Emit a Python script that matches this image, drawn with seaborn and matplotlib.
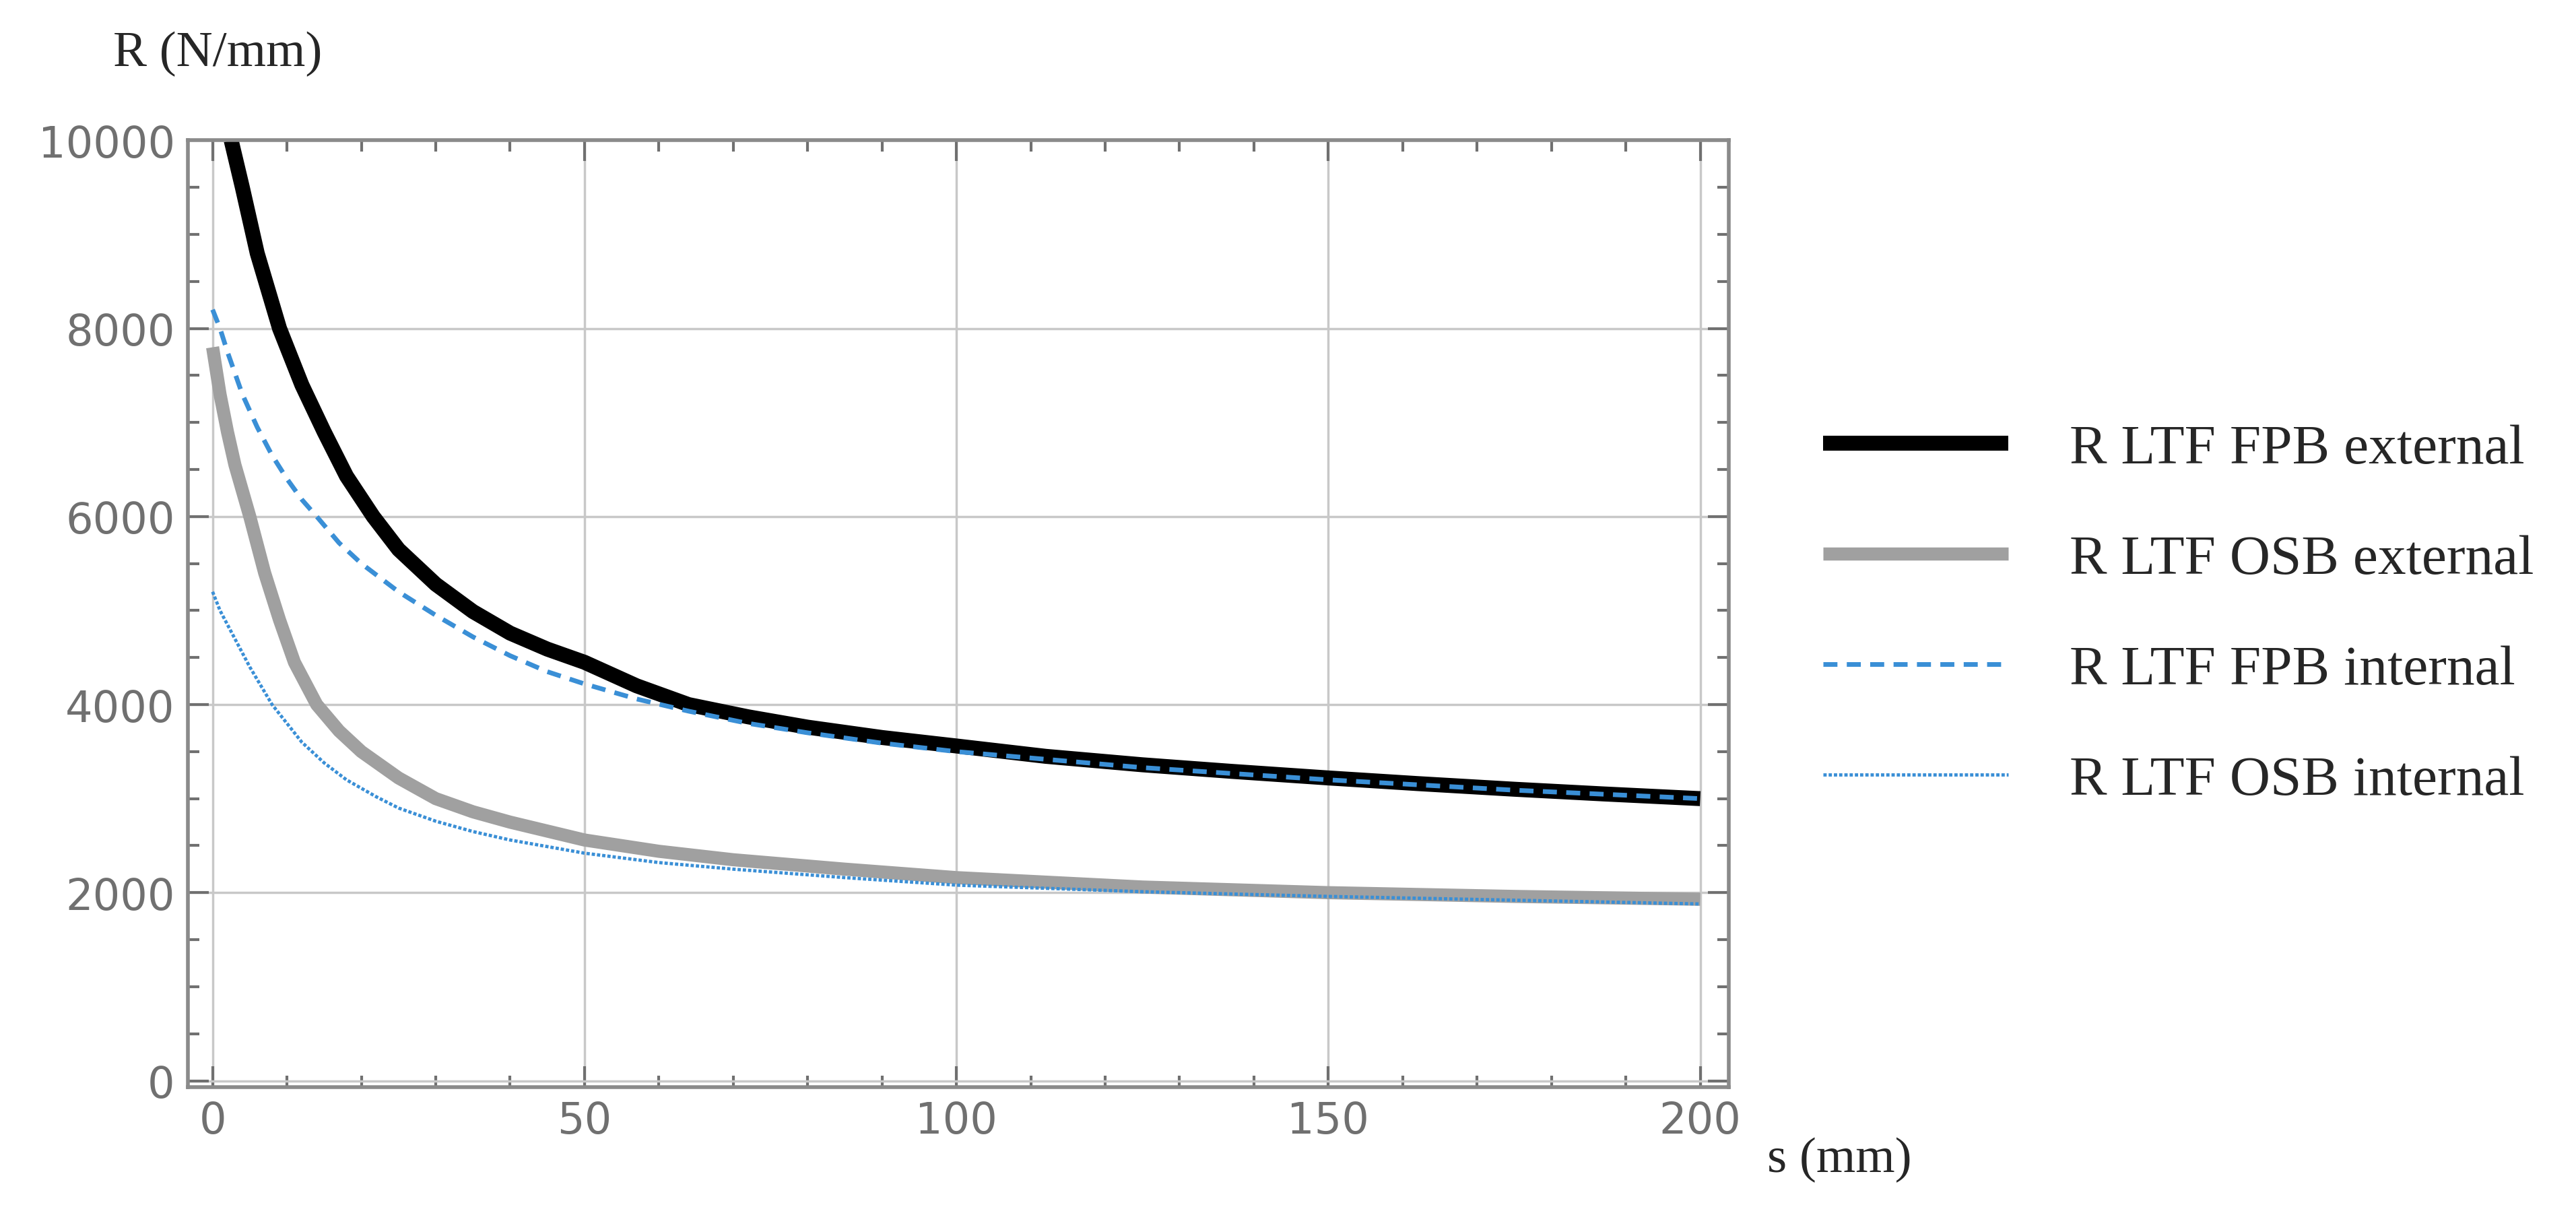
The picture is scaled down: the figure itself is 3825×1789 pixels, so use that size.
import numpy as np
import pandas as pd
import seaborn as sns
import matplotlib.pyplot as plt
from matplotlib.ticker import MultipleLocator

# values
s_fpb_ext = [2.5, 4, 6, 9, 12, 15, 18, 21.6, 25, 30, 35, 40, 45, 50, 57, 64, 72, 80, 90, 100, 112, 125, 137, 150, 162, 175, 187, 200]
r_fpb_ext = [10000, 9500, 8800, 8000, 7400, 6900, 6430, 6000, 5650, 5280, 4990, 4760, 4590, 4450, 4200, 4000, 3870, 3760, 3650, 3560, 3450, 3360, 3290, 3220, 3160, 3100, 3050, 3000]

s_osb_ext = [0, 1, 2, 3, 5, 7, 9, 11, 14, 17, 20, 25, 30, 35, 40, 50, 60, 70, 85, 100, 125, 150, 175, 200]
r_osb_ext = [7800, 7300, 6900, 6550, 6000, 5400, 4900, 4450, 4000, 3720, 3500, 3220, 3000, 2860, 2750, 2560, 2440, 2350, 2250, 2160, 2060, 2000, 1960, 1930]

s_fpb_int = [0, 1, 2, 4, 6, 8, 10, 12, 14, 17, 20, 25, 30, 35, 40, 45, 50, 57, 64, 72, 80, 90, 100, 125, 150, 175, 200]
r_fpb_int = [8200, 8000, 7750, 7300, 6950, 6650, 6400, 6180, 6000, 5720, 5500, 5200, 4950, 4720, 4520, 4350, 4220, 4060, 3930, 3800, 3700, 3590, 3500, 3330, 3200, 3090, 3000]

s_osb_int = [0, 1, 2, 3, 5, 8, 10, 12, 15, 18, 22, 25, 30, 35, 40, 50, 60, 70, 85, 100, 125, 150, 175, 200]
r_osb_int = [5200, 5000, 4850, 4700, 4400, 4000, 3800, 3600, 3380, 3200, 3020, 2900, 2760, 2650, 2560, 2420, 2320, 2250, 2160, 2080, 2010, 1960, 1920, 1880]

labels = ["R LTF FPB external", "R LTF OSB external", "R LTF FPB internal", "R LTF OSB internal"]

sns.set_style("white")
plt.rcParams['font.family'] = ['DejaVu Sans']

fig = plt.figure(figsize=(38.25, 17.9), dpi=100)
ax = fig.add_axes([0.073, 0.098, 0.598, 0.785])

series = [
    (s_fpb_ext, r_fpb_ext, dict(color="black", lw=16, ls="-")),
    (s_osb_ext, r_osb_ext, dict(color="#a0a0a0", lw=14, ls="-")),
    (s_fpb_int, r_fpb_int, dict(color="#3a8fd6", lw=5, ls=(0, (3, 2)))),
    (s_osb_int, r_osb_int, dict(color="#3a8fd6", lw=3.5, ls=(0, (1, 0.6)))),
]
for (xs, ys, st), lab in zip(series, labels):
    df = pd.DataFrame({"s": xs, "R": ys})
    sns.lineplot(data=df, x="s", y="R", ax=ax, label=lab, estimator=None, sort=True,
                 solid_capstyle="butt", **st)

ax.set_xlim(-3.3, 203.8)
ax.set_ylim(-65, 10000)
ax.xaxis.set_major_locator(MultipleLocator(50))
ax.xaxis.set_minor_locator(MultipleLocator(10))
ax.yaxis.set_major_locator(MultipleLocator(2000))
ax.yaxis.set_minor_locator(MultipleLocator(500))
ax.grid(True, which="major", color="#c8c8c8", lw=2.5)
ax.tick_params(which="both", direction="in", top=True, right=True, bottom=True, left=True,
               color="#707070", labelsize=46, labelcolor="#707070")
ax.tick_params(which="major", length=22, width=3, pad=14)
ax.tick_params(which="minor", length=12, width=3)
for sp in ax.spines.values():
    sp.set_color("#8a8a8a")
    sp.set_linewidth(4)
ax.set_xlabel("")
ax.set_ylabel("")

fig.text(0.044, 0.955, "R (N/mm)", fontsize=54, family="Liberation Serif", va="center")
fig.text(0.686, 0.038, "s (mm)", fontsize=54, family="Liberation Serif", va="center")

handles, labs = ax.get_legend_handles_labels()
ax.get_legend().remove()
fig.legend(handles, labs, loc="upper left", bbox_to_anchor=(0.688, 0.69), frameon=False,
           prop={"family": "Liberation Serif", "size": 60}, handlelength=3.3,
           labelspacing=1.05, handletextpad=1.1)

fig.savefig("out.png", dpi=100)
